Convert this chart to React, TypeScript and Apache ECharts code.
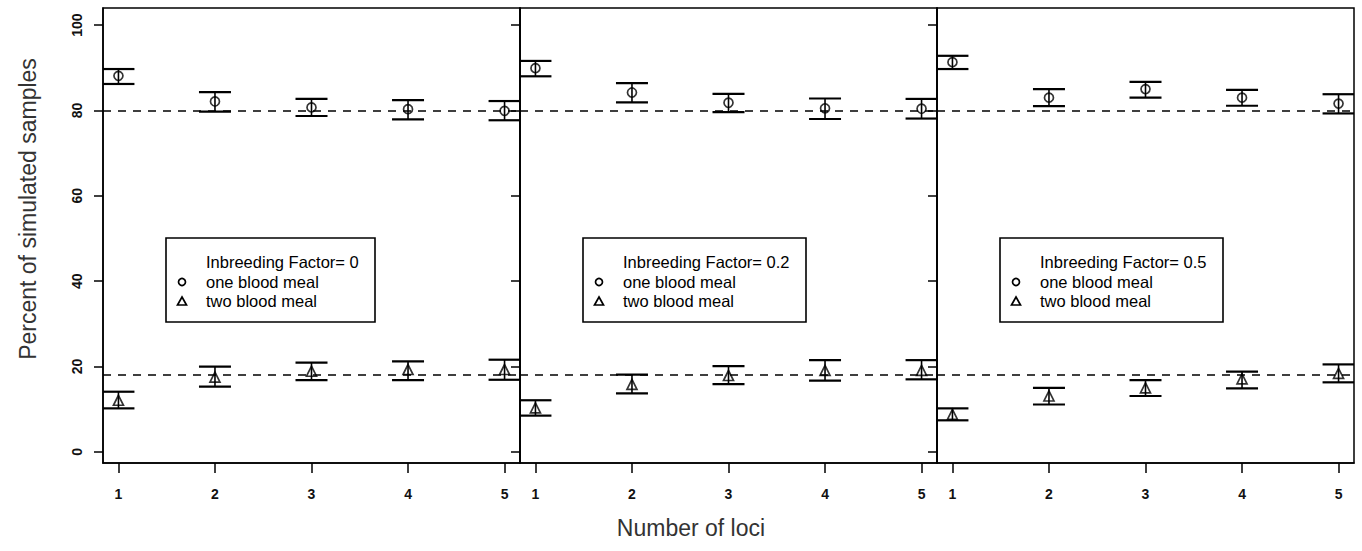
import React, { useEffect, useRef } from "react";
import * as echarts from "echarts";

// ---- data ----
const loci = [1, 2, 3, 4, 5];
const factors = ["0", "0.2", "0.5"];
const yTicks = [0, 20, 40, 60, 80, 100];
const refOne = 80;
const refTwo = 18;

// Inbreeding factor 0
const oneMean0 = [88.1, 82.1, 80.7, 80.3, 79.9];
const oneLow0 = [86.2, 79.7, 78.7, 77.9, 77.7];
const oneHigh0 = [89.7, 84.3, 82.7, 82.4, 82.2];
const twoMean0 = [12.1, 17.5, 18.9, 19.3, 19.3];
const twoLow0 = [10.2, 15.3, 16.8, 16.8, 16.9];
const twoHigh0 = [14.1, 20.0, 20.9, 21.2, 21.6];

// Inbreeding factor 0.2
const oneMean1 = [89.9, 84.2, 81.8, 80.5, 80.4];
const oneLow1 = [88.0, 81.9, 79.6, 78.0, 78.1];
const oneHigh1 = [91.6, 86.4, 83.9, 82.8, 82.7];
const twoMean1 = [10.3, 15.8, 17.9, 19.1, 19.1];
const twoLow1 = [8.5, 13.7, 15.9, 16.7, 17.0];
const twoHigh1 = [12.1, 18.1, 20.1, 21.5, 21.5];

// Inbreeding factor 0.5
const oneMean2 = [91.3, 83.0, 85.0, 83.0, 81.6];
const oneLow2 = [89.7, 81.0, 83.0, 81.1, 79.3];
const oneHigh2 = [92.8, 85.0, 86.7, 84.8, 83.8];
const twoMean2 = [8.8, 13.1, 15.0, 17.1, 18.4];
const twoLow2 = [7.4, 11.1, 13.1, 14.9, 16.3];
const twoHigh2 = [10.2, 15.0, 16.8, 18.8, 20.5];

const oneMeans = [oneMean0, oneMean1, oneMean2];
const oneLows = [oneLow0, oneLow1, oneLow2];
const oneHighs = [oneHigh0, oneHigh1, oneHigh2];
const twoMeans = [twoMean0, twoMean1, twoMean2];
const twoLows = [twoLow0, twoLow1, twoLow2];
const twoHighs = [twoHigh0, twoHigh1, twoHigh2];

// ---- layout ----
const W = 1362;
const H = 551;
const PANEL_LEFT = 103;
const PANEL_W = 417;
const PANEL_TOP = 8;
const PANEL_H = 455;
const FONT = "'Liberation Sans', Arial, Helvetica, sans-serif";
const LEG_W = [209, 223, 223];

function errRender(params: any, api: any) {
  const x = api.value(0);
  const lo = api.value(1);
  const hi = api.value(2);
  const pLo = api.coord([x, lo]);
  const pHi = api.coord([x, hi]);
  const cs = params.coordSys;
  const half = 16;
  const l = Math.max(cs.x, pLo[0] - half);
  const r = Math.min(cs.x + cs.width, pLo[0] + half);
  const cap = { stroke: "#000", lineWidth: 2.2 };
  return {
    type: "group",
    children: [
      {
        type: "line",
        shape: { x1: pLo[0], y1: pLo[1], x2: pHi[0], y2: pHi[1] },
        style: { stroke: "#000", lineWidth: 1.6 },
      },
      { type: "line", shape: { x1: l, y1: pHi[1], x2: r, y2: pHi[1] }, style: cap },
      { type: "line", shape: { x1: l, y1: pLo[1], x2: r, y2: pLo[1] }, style: cap },
    ],
  };
}

export default function App() {
  const ref = useRef<HTMLDivElement>(null);
  useEffect(() => {
    if (!ref.current) return;
    const chart = echarts.init(ref.current, undefined, { renderer: "svg" });
    const grids: any[] = [];
    const xAxes: any[] = [];
    const yAxes: any[] = [];
    const series: any[] = [];
    const graphics: any[] = [];
    const axisLineStyle = { color: "#000", width: 1.5 };

    factors.forEach((f, i) => {
      const left = PANEL_LEFT + PANEL_W * i;
      grids.push({
        left,
        top: PANEL_TOP,
        width: PANEL_W,
        height: PANEL_H,
        show: true,
        borderColor: "#000",
        borderWidth: 1.5,
        backgroundColor: "transparent",
      });
      xAxes.push({
        gridIndex: i,
        type: "value",
        min: 0.84,
        max: 5.16,
        axisLine: { show: true, onZero: false, lineStyle: axisLineStyle },
        axisTick: { show: true, length: 10, lineStyle: axisLineStyle, customValues: loci },
        axisLabel: {
          show: true,
          customValues: loci,
          fontSize: 14,
          fontWeight: "bold",
          fontFamily: FONT,
          color: "#111",
          margin: 24,
        },
        splitLine: { show: false },
      });
      yAxes.push({
        gridIndex: i,
        type: "value",
        min: -2.6,
        max: 104,
        axisLine: { show: true, onZero: false, lineStyle: axisLineStyle },
        axisTick: { show: true, length: 9, lineStyle: axisLineStyle, customValues: yTicks },
        axisLabel: {
          show: i === 0,
          customValues: yTicks,
          rotate: 90,
          fontSize: 14,
          fontWeight: "bold",
          fontFamily: FONT,
          color: "#111",
          margin: 19,
        },
        splitLine: { show: false },
      });
      const dashed = {
        silent: true,
        symbol: ["none", "none"],
        label: { show: false },
        lineStyle: { type: [8, 7], color: "#000", width: 1.5 },
      };
      series.push({
        type: "custom",
        xAxisIndex: i,
        yAxisIndex: i,
        renderItem: errRender,
        data: loci.map((x, j) => [x, oneLows[i][j], oneHighs[i][j]]),
        z: 3,
      });
      series.push({
        type: "custom",
        xAxisIndex: i,
        yAxisIndex: i,
        renderItem: errRender,
        data: loci.map((x, j) => [x, twoLows[i][j], twoHighs[i][j]]),
        z: 3,
      });
      series.push({
        type: "scatter",
        name: "one blood meal",
        xAxisIndex: i,
        yAxisIndex: i,
        symbol: "circle",
        symbolSize: 9,
        itemStyle: { color: "rgba(0,0,0,0)", borderColor: "#000", borderWidth: 1.7 },
        data: loci.map((x, j) => [x, oneMeans[i][j]]),
        markLine: { ...dashed, data: [{ yAxis: refOne }] },
        z: 4,
      });
      series.push({
        type: "scatter",
        name: "two blood meal",
        xAxisIndex: i,
        yAxisIndex: i,
        symbol: "triangle",
        symbolSize: 10,
        itemStyle: { color: "rgba(0,0,0,0)", borderColor: "#000", borderWidth: 1.7 },
        data: loci.map((x, j) => [x, twoMeans[i][j]]),
        markLine: { ...dashed, data: [{ yAxis: refTwo }] },
        z: 4,
      });

      // legend box
      const bx = left + 63;
      const by = 238;
      const textStyle = {
        fontSize: 16.5,
        fontFamily: FONT,
        fill: "#000",
        verticalAlign: "middle",
        align: "left",
      };
      graphics.push({
        type: "group",
        z: 100,
        children: [
          {
            type: "rect",
            shape: { x: bx, y: by, width: LEG_W[i], height: 84 },
            style: { fill: "#fff", stroke: "#000", lineWidth: 1.6 },
          },
          { type: "text", x: bx + 40, y: by + 24, style: { ...textStyle, text: "Inbreeding Factor= " + f } },
          {
            type: "circle",
            shape: { cx: bx + 16, cy: by + 44, r: 3.5 },
            style: { fill: "none", stroke: "#000", lineWidth: 1.7 },
          },
          { type: "text", x: bx + 40, y: by + 44, style: { ...textStyle, text: "one blood meal" } },
          {
            type: "polygon",
            shape: { points: [[bx + 16, by + 59], [bx + 20.5, by + 67], [bx + 11.5, by + 67]] },
            style: { fill: "none", stroke: "#000", lineWidth: 1.7 },
          },
          { type: "text", x: bx + 40, y: by + 63, style: { ...textStyle, text: "two blood meal" } },
        ],
      });
    });

    graphics.push({
      type: "text",
      x: 28,
      y: 209,
      rotation: Math.PI / 2,
      style: {
        text: "Percent of simulated samples",
        fontSize: 23,
        fontFamily: FONT,
        fill: "#333",
        align: "center",
        verticalAlign: "middle",
      },
    });
    graphics.push({
      type: "text",
      x: 691,
      y: 528,
      style: {
        text: "Number of loci",
        fontSize: 23,
        fontFamily: FONT,
        fill: "#333",
        align: "center",
        verticalAlign: "middle",
      },
    });

    chart.setOption({
      animation: false,
      backgroundColor: "#fff",
      grid: grids,
      xAxis: xAxes,
      yAxis: yAxes,
      series,
      graphic: graphics,
    });
    return () => chart.dispose();
  }, []);
  return (
    <div
      ref={ref}
      style={{ position: "fixed", left: 0, top: 0, width: W, height: H }}
    />
  );
}
